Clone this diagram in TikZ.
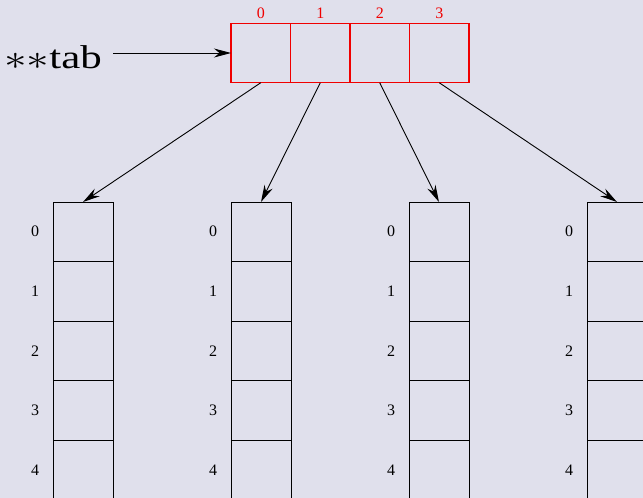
\documentclass[tikz,border=0pt]{standalone}
\usepackage{fontspec}
\setmainfont{Liberation Serif}
\usepackage{xcolor}
\usepackage{graphicx}
\usepackage{tikz}
\usetikzlibrary{arrows.meta}
\definecolor{bgcolor}{RGB}{224,224,236}
\definecolor{cellred}{RGB}{240,0,0}
\newcommand{\tabstar}{\raisebox{-0.05em}{\scalebox{1.4}{$\ast$}}}

\begin{document}
\begin{tikzpicture}[>={Stealth[length=17pt,width=9pt]}, x=1pt, y=-1pt,
        cell/.style={draw=cellred, line width=1.2pt, minimum width=59.5pt, minimum height=59.5pt, inner sep=0pt, outer sep=0pt},
        slot/.style={draw, line width=0.9pt, minimum width=60pt, minimum height=59.5pt, inner sep=0pt, outer sep=0pt},
        idx/.style={font=\fontsize{16}{16}\selectfont}]
        % 背景
        \fill [bgcolor] (0,0) rectangle (643,498);
        \useasboundingbox (0,0) rectangle (643,498);
        \clip (0,0) rectangle (643,498);
        % 指针数组 tab
        \foreach \i in {0,...,3} {
            \node [cell] (cell\i) at ({260.75+59.5*\i},53) {};
            \node [idx,cellred] (top\i) at ({260.75+59.5*\i},13) {\i};
        }
        \node [font=\fontsize{33}{33}\selectfont, anchor=base west, inner sep=0pt] (tab) at (4,68) {\scalebox{1.3}[1]{\tabstar\tabstar tab}};
        \draw [->, line width=0.9pt] (113,53) coordinate (start) -- (cell0.west);
        % 各行数组
        \foreach \i in {0,...,3} {
            \foreach \j in {0,...,4} {
                \node [slot] (col\i-\j) at ({83+178*\i},{231.75+59.5*\j}) {};
                \node [idx] (lbl\i-\j) at ({35+178*\i},{231.75+59.5*\j}) {\j};
            }
            \draw [->, line width=0.9pt] (cell\i.south) -- (col\i-0.north);
        }
\end{tikzpicture}
\end{document}
